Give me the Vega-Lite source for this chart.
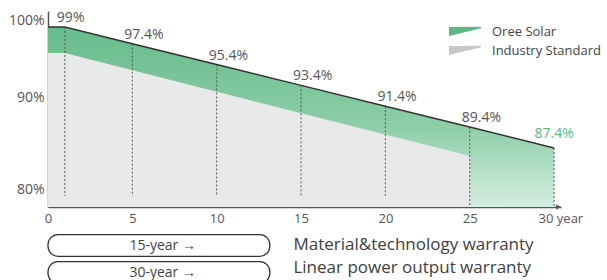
{
  "$schema": "https://vega.github.io/schema/vega-lite/v6.json",
  "padding": {"left": 8, "top": 10, "right": 0, "bottom": 0},
  "background": "white",
  "config": {"view": {"stroke": null}, "font": "Open Sans", "axis": {"grid": false}},
  "datasets": {
    "oree": [
      {"year": 0, "value": 99, "label": ""},
      {"year": 1, "value": 99, "label": "99%"},
      {"year": 5, "value": 97.4, "label": "97.4%"},
      {"year": 10, "value": 95.4, "label": "95.4%"},
      {"year": 15, "value": 93.4, "label": "93.4%"},
      {"year": 20, "value": 91.4, "label": "91.4%"},
      {"year": 25, "value": 89.4, "label": "89.4%"},
      {"year": 30, "value": 87.4, "label": "87.4%"}
    ],
    "industry": [
      {"year": 0, "value": 96.5},
      {"year": 1, "value": 96.5},
      {"year": 25, "value": 86.63}
    ],
    "series": [{"series": "Oree Solar"}, {"series": "Industry Standard"}],
    "warranty": [
      {"term": "15-year →", "coverage": "Material&technology warranty"},
      {"term": "30-year →", "coverage": "Linear power output warranty"}
    ]
  },
  "spacing": 7,
  "vconcat": [
    {
      "width": 513,
      "height": 196,
      "layer": [
        {
          "data": {"name": "oree"},
          "mark": {"type": "area", "color": {"gradient": "linear", "x1": 0, "y1": 0, "x2": 0, "y2": 1, "stops": [{"offset": 0, "color": "#66bb8b"}, {"offset": 0.55, "color": "#8dcea7"}, {"offset": 1, "color": "#d4ede0"}]}},
          "encoding": {
            "x": {"field": "year", "type": "quantitative", "title": null, "scale": {"domain": [0, 30.41], "nice": false, "zero": false},
              "axis": {"title": null, "values": [0, 5, 10, 15, 20, 25, 30], "labelExpr": "datum.value == 30 ? '30 year' : datum.label", "ticks": false, "domainColor": "#555", "domainWidth": 1.5, "labelColor": "#555", "labelFontSize": 13, "labelPadding": 5, "labelFlush": false, "labelOverlap": false,
                "labelAlign": {"condition": {"test": "datum.value == 30", "value": "left"}, "value": "center"},
                "labelOffset": {"condition": {"test": "datum.value == 30", "value": -16}, "value": 0}}},
            "y": {"field": "value", "type": "quantitative", "title": null, "scale": {"domain": [81.74, 100.53], "nice": false, "zero": false},
              "axis": {"title": null, "values": [83.42, 92.19, 99.58], "labelExpr": "datum.value > 95 ? '100%' : datum.value > 88 ? '90%' : '80%'", "ticks": false, "domainColor": "#555", "domainWidth": 1.5, "labelColor": "#555", "labelFontSize": 14, "labelPadding": 4, "minExtent": 39, "maxExtent": 39, "labelFlush": false, "labelOverlap": false}},
            "y2": {"datum": 81.74}
          }
        },
        {
          "data": {"name": "industry"},
          "mark": {"type": "area", "color": "#e8e9eb"},
          "encoding": {
            "x": {"field": "year", "type": "quantitative", "title": null},
            "y": {"field": "value", "type": "quantitative", "title": null},
            "y2": {"datum": 81.74}
          }
        },
        {
          "data": {"name": "oree"},
          "transform": [{"filter": "datum.year >= 1 && datum.year <= 20"}],
          "mark": {"type": "rule", "color": "#555", "strokeDash": [2, 2], "strokeWidth": 1},
          "encoding": {
            "x": {"field": "year", "type": "quantitative", "title": null},
            "y": {"field": "value", "type": "quantitative", "title": null},
            "y2": {"datum": 82.8}
          }
        },
        {
          "data": {"name": "oree"},
          "transform": [{"filter": "datum.year >= 25"}],
          "mark": {"type": "rule", "color": "#555", "strokeDash": [2, 2], "strokeWidth": 1},
          "encoding": {
            "x": {"field": "year", "type": "quantitative", "title": null},
            "y": {"field": "value", "type": "quantitative", "title": null},
            "y2": {"datum": 81.74}
          }
        },
        {
          "data": {"name": "oree"},
          "mark": {"type": "line", "color": "#333", "strokeWidth": 1.5},
          "encoding": {
            "x": {"field": "year", "type": "quantitative", "title": null},
            "y": {"field": "value", "type": "quantitative", "title": null}
          }
        },
        {
          "data": {"name": "oree"},
          "transform": [{"filter": "datum.year >= 1 && datum.year <= 25"}],
          "mark": {"type": "text", "align": "left", "baseline": "alphabetic", "dx": -8, "dy": -5, "fontSize": 14, "color": "#555"},
          "encoding": {
            "x": {"field": "year", "type": "quantitative", "title": null},
            "y": {"field": "value", "type": "quantitative", "title": null},
            "text": {"field": "label"}
          }
        },
        {
          "data": {"name": "oree"},
          "transform": [{"filter": "datum.year == 30"}],
          "mark": {"type": "text", "align": "center", "baseline": "alphabetic", "dy": -10, "fontSize": 14, "color": "#5cb87a"},
          "encoding": {
            "x": {"field": "year", "type": "quantitative", "title": null},
            "y": {"field": "value", "type": "quantitative", "title": null},
            "text": {"field": "label"}
          }
        },
        {
          "data": {"values": [{}]},
          "mark": {"type": "point", "shape": "triangle-right", "size": 30, "filled": true, "color": "#555", "opacity": 1},
          "encoding": {
            "x": {"datum": 30.26, "type": "quantitative"},
            "y": {"datum": 81.74, "type": "quantitative"}
          }
        },
        {
          "data": {"name": "series"},
          "mark": {"type": "point", "filled": true, "opacity": 0},
          "encoding": {
            "color": {"field": "series", "type": "nominal", "sort": null,
              "scale": {"domain": ["Oree Solar", "Industry Standard"], "range": ["#5cb880", "#c6c7ca"]},
              "legend": {"title": null, "orient": "none", "legendX": 409, "legendY": 12.5, "padding": 0, "rowPadding": 4, "labelOffset": 19, "symbolType": "M-2,-0.55L2,-0.6L2,-0.4L-2,0.55Z", "symbolSize": 256, "symbolOpacity": 1, "symbolStrokeWidth": 0, "labelFontSize": 13, "labelColor": "#444", "labelFont": "Open Sans"}}
          }
        }
      ]
    },
    {
      "width": 513,
      "height": 54,
      "data": {"name": "warranty"},
      "layer": [
        {
          "mark": {"type": "rect", "cornerRadius": 10, "fill": "white", "stroke": "#333", "strokeWidth": 1.3},
          "encoding": {
            "x": {"datum": 0, "type": "quantitative", "scale": {"domain": [0, 30.41], "nice": false, "zero": false}, "axis": null},
            "x2": {"datum": 13.15},
            "y": {"field": "term", "type": "nominal", "sort": null, "scale": {"paddingInner": 0.2, "paddingOuter": 0.1},
              "axis": {"title": null, "labels": false, "ticks": false, "domain": false, "minExtent": 39, "maxExtent": 39}}
          }
        },
        {
          "mark": {"type": "text", "align": "center", "baseline": "middle", "fontSize": 14, "color": "#444"},
          "encoding": {
            "x": {"datum": 6.8, "type": "quantitative"},
            "y": {"field": "term", "type": "nominal", "sort": null},
            "text": {"field": "term"}
          }
        },
        {
          "mark": {"type": "text", "align": "left", "baseline": "middle", "fontSize": 17, "color": "#404040", "yOffset": {"expr": "datum.term == '15-year →' ? -1 : -5"}},
          "encoding": {
            "x": {"datum": 14.55, "type": "quantitative"},
            "y": {"field": "term", "type": "nominal", "sort": null},
            "text": {"field": "coverage"}
          }
        }
      ]
    }
  ]
}
